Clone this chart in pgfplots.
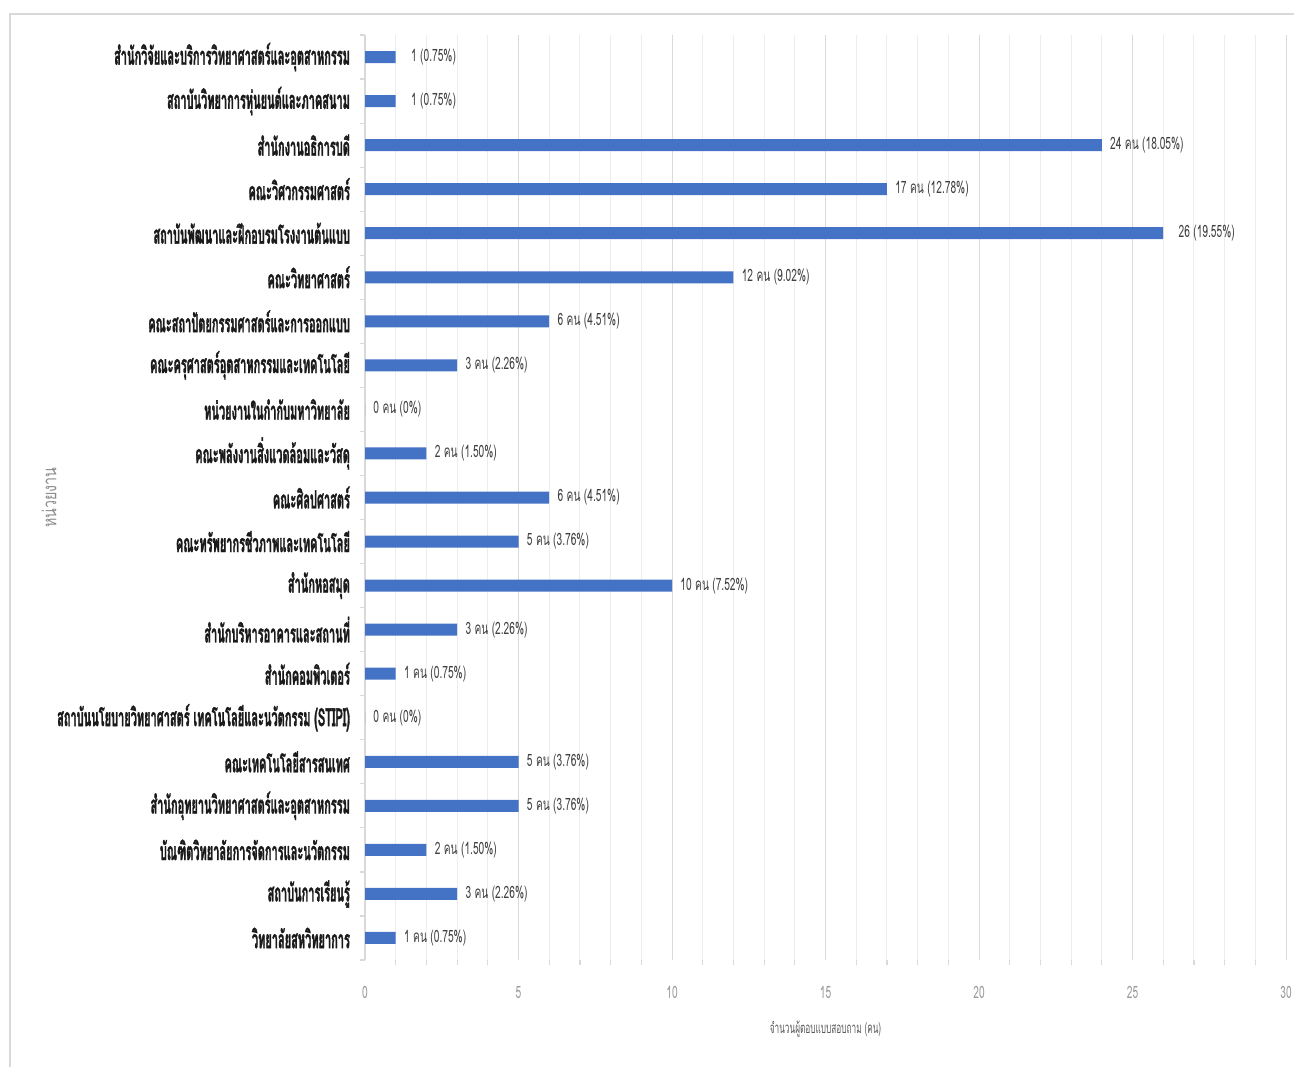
\documentclass[border=0pt]{standalone}
\usepackage{pgfplots}
\pgfplotsset{compat=1.18}
\usepackage{fontspec}
\setmainfont{Liberation Sans}
\newfontfamily\catfont[Script=Thai,FakeStretch=0.44,BoldFeatures={FakeBold=1.2}]{Loma}
\newfontfamily\lblfont[Script=Thai,FakeStretch=0.6]{Loma}
\newfontfamily\tickfont[Script=Thai,FakeStretch=0.6]{Loma}
\newfontfamily\axlblfont[Script=Thai,FakeStretch=0.55]{Loma}
\newfontfamily\ylblfont[Script=Thai,FakeStretch=0.75]{Loma}
\definecolor{barblue}{HTML}{4472C4}
\definecolor{gridmaj}{HTML}{D9D9D9}
\definecolor{gridmin}{HTML}{EDEDED}
\definecolor{lbltext}{HTML}{404040}
\definecolor{axtext}{HTML}{595959}
\definecolor{cattext}{HTML}{1A1A1A}
\begin{document}
\begin{tikzpicture}[x=1pt,y=1pt]
\useasboundingbox (0,0) rectangle (647,533.5);
\draw[gridmaj,line width=0.6pt] (5,0) -- (5,526.5) -- (647,526.5);
\begin{axis}[
  at={(182.5pt,53.5pt)}, anchor=south west,
  scale only axis, width=460.5pt, height=462.5pt,
  xbar, bar width=6pt,
  xmin=0, xmax=30, ymin=-0.5, ymax=20.5, y dir=reverse,
  axis lines*=left,
  x axis line style={draw=none},
  y axis line style={draw=gridmaj, line width=0.6pt},
  xtick={0,5,...,30}, xticklabels={0,5,10,15,20,25,30},
  minor x tick num=4,
  xmajorgrids, xminorgrids,
  major grid style={gridmaj, line width=0.5pt},
  minor grid style={gridmin, line width=0.5pt},
  major tick length=0pt,
  xticklabel style={font=\tickfont\fontsize{8.5}{10}\selectfont, text=gray!80, yshift=-9.5pt},
  ytick={0,...,20},
  yticklabels={สำนักวิจัยและบริการวิทยาศาสตร์และอุตสาหกรรม,สถาบันวิทยาการหุ่นยนต์และภาคสนาม,สำนักงานอธิการบดี,คณะวิศวกรรมศาสตร์,สถาบันพัฒนาและฝึกอบรมโรงงานต้นแบบ,คณะวิทยาศาสตร์,คณะสถาปัตยกรรมศาสตร์และการออกแบบ,คณะครุศาสตร์อุตสาหกรรมและเทคโนโลยี,หน่วยงานในกำกับมหาวิทยาลัย,คณะพลังงานสิ่งแวดล้อมและวัสดุ,คณะศิลปศาสตร์,คณะทรัพยากรชีวภาพและเทคโนโลยี,สำนักหอสมุด,สำนักบริหารอาคารและสถานที่,สำนักคอมพิวเตอร์,สถาบันนโยบายวิทยาศาสตร์ เทคโนโลยีและนวัตกรรม (STIPI),คณะเทคโนโลยีสารสนเทศ,สำนักอุทยานวิทยาศาสตร์และอุตสาหกรรม,บัณฑิตวิทยาลัยการจัดการและนวัตกรรม,สถาบันการเรียนรู้,วิทยาลัยสหวิทยาการ},
  yticklabel style={font=\catfont\bfseries\fontsize{12.5}{13}\selectfont, text=cattext, xshift=-4pt},
  minor ytick={-0.5,0.5,...,20.5},
  minor tick length=2.5pt,
  tick align=outside,
  minor tick style={gridmaj, line width=0.6pt},
  xlabel={จำนวนผู้ตอบแบบสอบถาม (คน)},
  xlabel style={font=\axlblfont\fontsize{7.5}{9}\selectfont, text=axtext, yshift=-4.5pt},
  ylabel={หน่วยงาน},
  ylabel style={at={(axis description cs:-0.343,0.5)}, anchor=center, font=\ylblfont\fontsize{9.5}{11}\selectfont, text=gray!90},
  nodes near coords,
  point meta=explicit symbolic,
  nodes near coords style={font=\lblfont\fontsize{8.5}{10}\selectfont, text=lbltext, anchor=west, inner sep=0pt, xshift=4pt},
]
\addplot[fill=barblue, draw=none] coordinates {
 (1,0) [\hspace{3.5pt}1 (0.75\%)]
 (1,1) [\hspace{3.5pt}1 (0.75\%)]
 (24,2) [24 คน (18.05\%)]
 (17,3) [17 คน (12.78\%)]
 (26,4) [\hspace{3.5pt}26 (19.55\%)]
 (12,5) [12 คน (9.02\%)]
 (6,6) [6 คน (4.51\%)]
 (3,7) [3 คน (2.26\%)]
 (0,8) [0 คน (0\%)]
 (2,9) [2 คน (1.50\%)]
 (6,10) [6 คน (4.51\%)]
 (5,11) [5 คน (3.76\%)]
 (10,12) [10 คน (7.52\%)]
 (3,13) [3 คน (2.26\%)]
 (1,14) [1 คน (0.75\%)]
 (0,15) [0 คน (0\%)]
 (5,16) [5 คน (3.76\%)]
 (5,17) [5 คน (3.76\%)]
 (2,18) [2 คน (1.50\%)]
 (3,19) [3 คน (2.26\%)]
 (1,20) [1 คน (0.75\%)]
};
\end{axis}
\end{tikzpicture}
\end{document}
